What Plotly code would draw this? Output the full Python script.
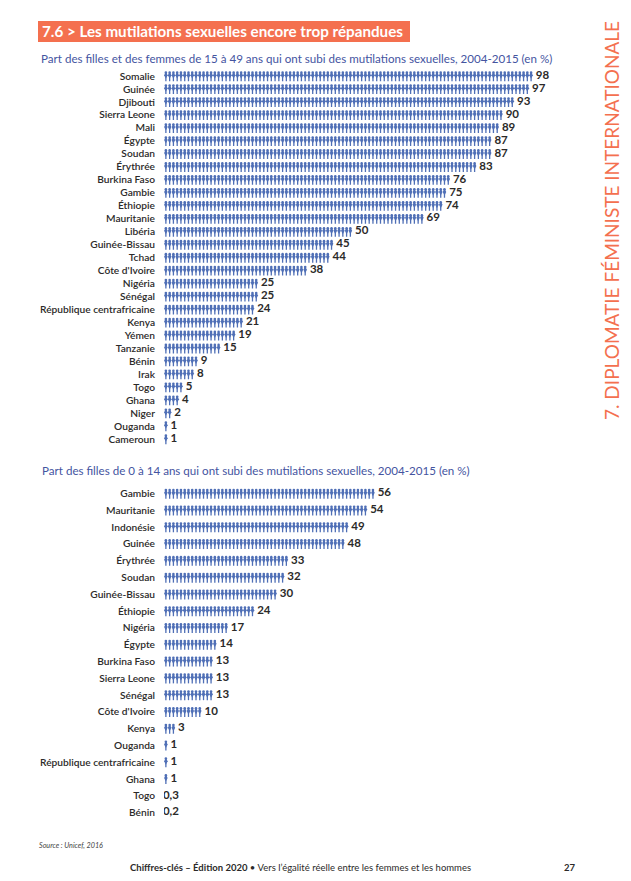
import plotly.graph_objects as go

W = 631
H = 881
blue = '#4f6fb6'
dark = '#2b2a29'
orange = '#f4704f'

pays1 = ['Somalie', 'Guinée', 'Djibouti', 'Sierra Leone', 'Mali', 'Égypte', 'Soudan', 'Érythrée', 'Burkina Faso', 'Gambie',
         'Éthiopie', 'Mauritanie', 'Libéria', 'Guinée-Bissau', 'Tchad', "Côte d'Ivoire", 'Nigéria', 'Sénégal',
         'République centrafricaine', 'Kenya', 'Yémen', 'Tanzanie', 'Bénin', 'Irak', 'Togo', 'Ghana', 'Niger', 'Ouganda', 'Cameroun']
val1 = [98, 97, 93, 90, 89, 87, 87, 83, 76, 75, 74, 69, 50, 45, 44, 38, 25, 25, 24, 21, 19, 15, 9, 8, 5, 4, 2, 1, 1]

pays2 = ['Gambie', 'Mauritanie', 'Indonésie', 'Guinée', 'Érythrée', 'Soudan', 'Guinée-Bissau', 'Éthiopie', 'Nigéria', 'Égypte',
         'Burkina Faso', 'Sierra Leone', 'Sénégal', "Côte d'Ivoire", 'Kenya', 'Ouganda', 'République centrafricaine', 'Ghana', 'Togo', 'Bénin']
val2 = [56, 54, 49, 48, 33, 32, 30, 24, 17, 14, 13, 13, 13, 10, 3, 1, 1, 1, 0.3, 0.2]

fig = go.Figure()

# one figure = one person, head + torso + legs (y axis is reversed, minus = up)
for pays, val, xa, ya, head, torso, legs in [(pays1, val1, 'x', 'y', -0.26, -0.06, 0.1), (pays2, val2, 'x2', 'y2', -0.21, -0.05, 0.08)]:
    xs = []
    ys_head = []
    ys_torso = []
    ys_legs = []
    xt = []
    yt = []
    txt = []
    for i in range(len(pays)):
        for k in range(int(val[i])):
            xs.append(k + 0.5)
            ys_head.append(i + head)
            ys_torso.append(i + torso)
            ys_legs.append(i + legs)
        xt.append(int(val[i]) + 0.75 if val[i] >= 1 else -0.3)
        yt.append(i)
        txt.append(str(val[i]).replace('.', ','))
    fig.add_trace(go.Scatter(x=xs, y=ys_legs, xaxis=xa, yaxis=ya, mode='markers', hoverinfo='skip',
                             marker=dict(symbol='line-ns', size=5.5, color=blue, line=dict(width=1.3, color=blue))))
    fig.add_trace(go.Scatter(x=xs, y=ys_torso, xaxis=xa, yaxis=ya, mode='markers', hoverinfo='skip',
                             marker=dict(symbol='diamond-tall', size=5, color=blue, line_width=0)))
    fig.add_trace(go.Scatter(x=xs, y=ys_head, xaxis=xa, yaxis=ya, mode='markers', hoverinfo='skip',
                             marker=dict(symbol='circle', size=2.6, color=blue, line_width=0)))
    fig.add_trace(go.Scatter(x=xt, y=yt, xaxis=xa, yaxis=ya, mode='text', text=txt, textposition='middle right',
                             textfont=dict(family='Lato', size=11.5, color=dark, weight=700), hoverinfo='skip'))

x0 = 164
unit = 3.765  # pixels per person
rng_x = [0, (W - x0) / unit]
row1 = 12.96
row2 = 16.79
top1 = 76 - row1 / 2
bot1 = 439 + row1 / 2
top2 = 493.5 - row2 / 2
bot2 = 812.5 + row2 / 2

fig.update_layout(
    width=W, height=H, margin=dict(l=0, r=0, t=0, b=0), showlegend=False,
    paper_bgcolor='white', plot_bgcolor='white',
    font=dict(family='Lato', color=dark),
    xaxis=dict(domain=[x0 / W, 1], range=rng_x, visible=False),
    xaxis2=dict(domain=[x0 / W, 1], range=rng_x, visible=False, anchor='y2'),
    yaxis=dict(domain=[1 - bot1 / H, 1 - top1 / H], range=[len(pays1) - 0.5, -0.5], tickvals=list(range(len(pays1))), ticktext=pays1,
               showgrid=False, zeroline=False, showline=False, ticks='', ticklabelstandoff=8, tickfont=dict(family='Lato', size=10.2, color=dark, weight=600)),
    yaxis2=dict(domain=[1 - bot2 / H, 1 - top2 / H], range=[len(pays2) - 0.5, -0.5], tickvals=list(range(len(pays2))), ticktext=pays2,
                showgrid=False, zeroline=False, showline=False, ticks='', ticklabelstandoff=8, tickfont=dict(family='Lato', size=10.2, color=dark, weight=600), anchor='x2'),
)

# title band
fig.add_shape(type='rect', xref='paper', yref='paper', x0=38 / W, x1=410 / W, y0=1 - 42 / H, y1=1 - 21 / H, fillcolor=orange, line_width=0, layer='below')

def note(x, y, text, size, color=dark, anchor='left', **kw):
    fig.add_annotation(xref='paper', yref='paper', x=x / W, y=1 - y / H, text=text, showarrow=False, xanchor=anchor, yanchor='middle',
                       font=dict(family='Lato', size=size, color=color), **kw)

note(40, 31.5, '<b>7.6 &gt; Les mutilations sexuelles encore trop répandues</b>', 15.2, 'white')
note(39, 58, 'Part des filles et des femmes de 15 à 49 ans qui ont subi des mutilations sexuelles, 2004-2015 (en %)', 11.6, '#44549f')
note(40, 470, 'Part des filles de 0 à 14 ans qui ont subi des mutilations sexuelles, 2004-2015 (en %)', 11.6, '#44549f')
note(37, 845, '<i>Source : Unicef, 2016</i>', 7.2, '#444444')
note(128, 867, '<b>Chiffres-clés – Édition 2020</b> • Vers l’égalité réelle entre les femmes et les hommes', 9.5)
note(570, 867, '<b>27</b>', 9.5, anchor='center')
note(611, 221, '7. DIPLOMATIE FÉMINISTE INTERNATIONALE', 19, orange, anchor='center', textangle=-90)

fig.write_html("out.html", config={'displayModeBar': False}, post_script="document.body.style.margin='0';")
